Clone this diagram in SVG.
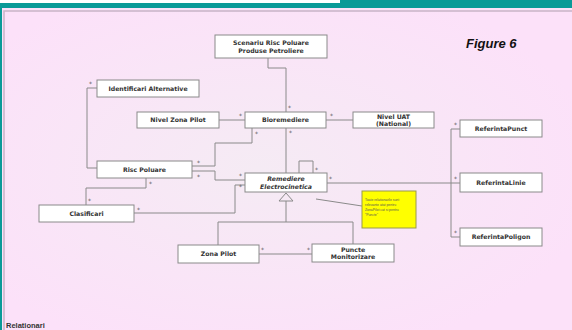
<svg xmlns="http://www.w3.org/2000/svg" width="572" height="330" viewBox="0 0 572 330">
<style>
.node rect{fill:#ffffff;stroke:#8a8a8a;stroke-width:1}
.node text{font-family:"DejaVu Sans",sans-serif;font-weight:bold;font-size:6.2px;fill:#333333;text-anchor:middle}
.conn path{fill:none;stroke:#8a8a8a;stroke-width:1}
.m{font-family:"DejaVu Sans",sans-serif;font-size:6px;fill:#555}
</style>
<defs>
<radialGradient id="bg" cx="0.45" cy="0.5" r="0.6">
<stop offset="0" stop-color="#f5ebf4"/>
<stop offset="1" stop-color="#fce1f9"/>
</radialGradient>
</defs>
<rect x="0" y="0" width="572" height="330" fill="#0a9a98"/>
<rect x="0" y="0" width="340" height="3" fill="#ffffff"/>
<rect x="2" y="8" width="570" height="322" fill="url(#bg)"/>
<path d="M4 330 V11 H572" fill="none" stroke="#c8b4c6" stroke-width="1.5"/>
<text x="466" y="48" font-family="Liberation Sans,Arial,sans-serif" font-weight="bold" font-style="italic" font-size="13" fill="#111">Figure 6</text>
<text x="6" y="328" font-family="Liberation Sans,Arial,sans-serif" font-weight="bold" font-size="7.5" fill="#333">Relationari</text>

<g id="connectors" class="conn">
<path d="M268 58 V68 H286 V112"/>
<path d="M97 88 H87 V168 H97"/>
<path d="M219 120 H245"/>
<path d="M326 120 H353"/>
<path d="M192 166 H215 V143 H252 V128"/>
<path d="M192 171 H215 V180 H245"/>
<path d="M146 178 V188 H86 V205"/>
<path d="M134 213 H235 V185 H245"/>
<path d="M286 128 V173"/>
<path d="M299 173 V161 H313 V173"/>
<path d="M327 183 H460" stroke="#6f6f6f" stroke-width="1.6"/>
<path d="M460 129 H451 V237 H460"/>
<path d="M286 201 V222 M218 222 H353 M218 222 V245 M353 222 V244"/>
<path d="M279 201 L286 193 L293 201 Z" fill="#ffffff"/>
<path d="M259 254 H312"/>
<path d="M316 199 L362 206"/>
<text class="m" x="288" y="110">*</text>
<text class="m" x="89" y="86">*</text>
<text class="m" x="239" y="118">*</text>
<text class="m" x="330" y="118">*</text>
<text class="m" x="255" y="136">*</text>
<text class="m" x="197" y="165">*</text>
<text class="m" x="197" y="179">*</text>
<text class="m" x="239" y="178">*</text>
<text class="m" x="149" y="186">*</text>
<text class="m" x="88" y="203">*</text>
<text class="m" x="137" y="212">*</text>
<text class="m" x="239" y="189">*</text>
<text class="m" x="289" y="135">*</text>
<text class="m" x="315" y="172">*</text>
<text class="m" x="329" y="181">*</text>
<text class="m" x="454" y="127">*</text>
<text class="m" x="454" y="181">*</text>
<text class="m" x="454" y="235">*</text>
<text class="m" x="261" y="252">*</text>
<text class="m" x="307" y="252">*</text>
</g>

<g id="scenariu" class="node"><rect x="215" y="35" width="112" height="23"/><text x="271" y="44.5">Scenariu Risc Poluare</text><text x="271" y="53">Produse Petroliere</text></g>
<g id="identificari" class="node"><rect x="97" y="80" width="102" height="17"/><text x="148" y="90.5">Identificari Alternative</text></g>
<g id="nivelZonaPilot" class="node"><rect x="137" y="112" width="82" height="16"/><text x="178" y="122">Nivel Zona Pilot</text></g>
<g id="bioremediere" class="node"><rect x="245" y="112" width="81" height="16"/><text x="285.5" y="122">Bioremediere</text></g>
<g id="nivelUAT" class="node"><rect x="353" y="112" width="81" height="16"/><text x="393.5" y="118.5">Nivel UAT</text><text x="393.5" y="125.5">(National)</text></g>
<g id="referintaPunct" class="node"><rect x="460" y="120" width="82" height="17"/><text x="501" y="130.5">ReferintaPunct</text></g>
<g id="referintaLinie" class="node"><rect x="460" y="173" width="82" height="19"/><text x="501" y="184.5">ReferintaLinie</text></g>
<g id="referintaPoligon" class="node"><rect x="460" y="228" width="82" height="18"/><text x="501" y="239">ReferintaPoligon</text></g>
<g id="riscPoluare" class="node"><rect x="97" y="161" width="95" height="17"/><text x="144.5" y="171.5">Risc Poluare</text></g>
<g id="clasificari" class="node"><rect x="39" y="205" width="95" height="17"/><text x="86.5" y="215.5">Clasificari</text></g>
<g id="remediere" class="node"><rect x="245" y="173" width="82" height="19"/><text x="286" y="181" font-style="italic">Remediere</text><text x="286" y="189" font-style="italic">Electrocinetica</text></g>
<g id="zonaPilot" class="node"><rect x="178" y="245" width="81" height="18"/><text x="218.5" y="256">Zona Pilot</text></g>
<g id="puncte" class="node"><rect x="312" y="244" width="82" height="18"/><text x="353" y="251.5">Puncte</text><text x="353" y="259">Monitorizare</text></g>
<g id="nota"><rect x="362" y="191" width="54" height="37" fill="#ffff00" stroke="#9a9a4a" stroke-width="1"/>
<text font-family="Liberation Sans,Arial,sans-serif" font-size="3.4" fill="#555"><tspan x="365" y="201">Toate relationarile sunt</tspan><tspan x="365" y="206">relevante atat pentru</tspan><tspan x="365" y="211">ZonaPilot cat si pentru</tspan><tspan x="365" y="216">"Puncte"</tspan></text></g>
</svg>
